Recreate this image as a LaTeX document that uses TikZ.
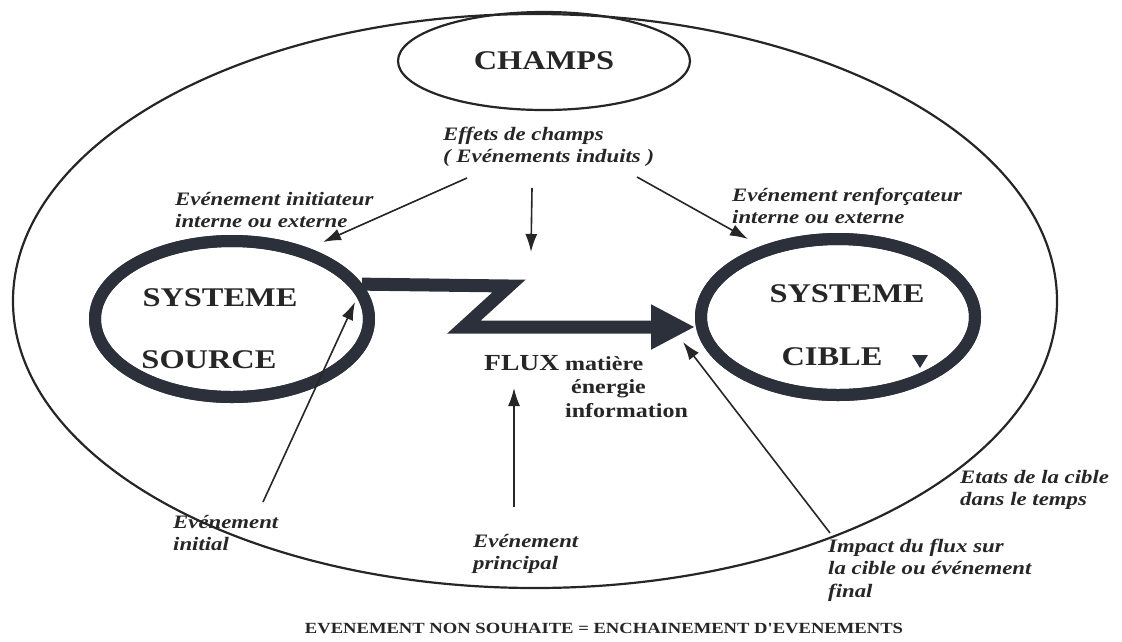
\documentclass[tikz,border=0pt]{standalone}
\usepackage{fontspec}
\setmainfont{Liberation Serif}[FakeStretch=1.2]
\newfontfamily\capfont{Liberation Serif}[FakeStretch=1.2, Ligatures=TeXOff]
\usetikzlibrary{arrows.meta,shapes.geometric,calc}

\definecolor{ink}{HTML}{262626}
\definecolor{ring}{HTML}{2B303A}

\tikzset{
  bigtxt/.style={font=\fontsize{27}{27}\selectfont\bfseries, text=ink, inner sep=0pt},
  lbl/.style={font=\fontsize{19}{22.5}\selectfont\bfseries\itshape, text=ink, inner sep=0pt, anchor=base west},
  fluxtxt/.style={font=\fontsize{20}{23.5}\selectfont\bfseries, text=ink, inner sep=0pt, anchor=base west},
  outerell/.style={ellipse, draw=ink, line width=2.2pt, minimum width=1044pt, minimum height=574pt, inner sep=0pt},
  champell/.style={ellipse, draw=ink, line width=2.2pt, minimum width=292pt, minimum height=98pt, inner sep=0pt},
  sysell/.style={ellipse, draw=ring, line width=12pt, minimum width=274pt, minimum height=156pt, inner sep=0pt},
  thin/.style={draw=ink, line width=1.6pt, -{Latex[length=18pt,width=12pt]}},
  flux/.style={draw=ring, line width=13pt, line join=miter, -{Triangle[length=44pt,width=42pt]}},
}

\newcommand{\twoline}[1]{\begin{tabular}[t]{@{}l@{}}#1\end{tabular}}

\begin{document}
\begin{tikzpicture}[x=1pt,y=-1pt]
\useasboundingbox (0,0) rectangle (1122,641);

% frame of the whole situation and the field
\node[outerell] (univ) at (535,301) {};
\node[champell, font=\fontsize{27}{27}\selectfont\bfseries, text=ink] (champs) at (544,61) {CHAMPS};

% flux from the source system to the target system
\coordinate (z1) at (509,286);
\coordinate (z2) at (464,327);
\node[sysell] (src) at (232,319) {};
\node[sysell] (cib) at (838,317) {};
\draw[flux] (src.15) -- (z1) -- (z2) -- (z2 -| cib.west);
\node[sysell] at (src) {};
\node[sysell] at (cib) {};

% texts inside the systems
\node[bigtxt] (srcA) at (220,298) {SYSTEME};
\node[bigtxt] (srcB) at (209,360) {SOURCE};
\node[bigtxt] (cibA) at (847,294) {SYSTEME};
\node[bigtxt] (cibB) at (832,357) {CIBLE};
\fill[ring] (912,355) -- (928,355) -- (920,368) -- cycle;

% flux label
\node[fluxtxt, font=\fontsize{23}{23}\selectfont\bfseries] (fluxw) at (484,370) {FLUX};
\node[fluxtxt] (fluxk) at (565,370) {\twoline{matière\\\hspace{6pt}énergie\\information}};

% event labels
\node[lbl] (effets) at (443,140) {\twoline{Effets de champs\\( Evénements induits )}};
\node[lbl] (initiat) at (175,205) {\twoline{Evénement initiateur\\interne ou externe}};
\node[lbl] (renfor) at (732,201) {\twoline{Evénement renforçateur\\interne ou externe}};
\node[lbl] (initial) at (173,528) {\twoline{Evénement\\initial}};
\node[lbl] (princ) at (473,547) {\twoline{Evénement\\principal}};
\node[lbl] (etats) at (960,483) {\twoline{Etats de la cible\\dans le temps}};
\node[lbl] (impact) at (828,552) {\twoline{Impact du flux sur\\la cible ou événement\\final}};

% caption
\node[font=\capfont\fontsize{15.5}{16}\selectfont\bfseries, text=ink, inner sep=0pt, anchor=base] (caption) at (604,633)
  {EVENEMENT NON SOUHAITE = ENCHAINEMENT D'EVENEMENTS};

% arrow ends
\coordinate (a1s) at (467,178);
\coordinate (a1e) at (323,242);
\coordinate (a2s) at (532,188);
\coordinate (a2e) at (531,252);
\coordinate (a3s) at (637,177);
\coordinate (a3e) at (748,239);
\coordinate (a4s) at (263,502);
\coordinate (a4e) at (355,302);
\coordinate (a5s) at (514,507);
\coordinate (a5e) at (514,388);
\coordinate (a6s) at (830,533);
\coordinate (a6e) at (683,342);

\draw[thin] (a1s) -- (a1e);
\draw[thin] (a2s) -- (a2e);
\draw[thin] (a3s) -- (a3e);
\draw[thin] (a4s) -- (a4e);
\draw[thin] (a5s) -- (a5e);
\draw[thin] (a6s) -- (a6e);
\end{tikzpicture}
\end{document}
